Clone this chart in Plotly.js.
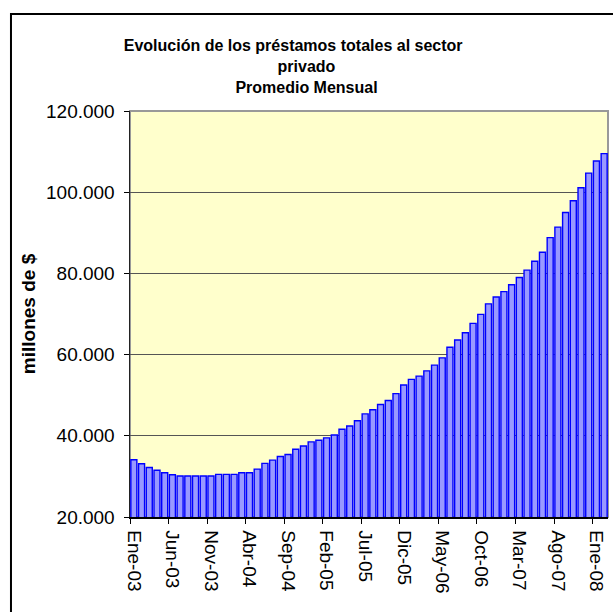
<!DOCTYPE html>
<html>
<head>
<meta charset="utf-8">
<script src="https://cdn.plot.ly/plotly-3.0.1.min.js"></script>
<style>html,body{margin:0;padding:0;background:#fff;}#chart{width:613px;height:612px;}</style>
</head>
<body>
<div id="chart"></div>
<script>
// Month labels (Spanish abbreviations) and years covered
const monthNames = ["Ene","Feb","Mar","Abr","May","Jun","Jul","Ago","Sep","Oct","Nov","Dic"];
const years = ["03","04","05","06","07","08"];
const nMonths = 62; // Ene-03 .. Feb-08

// Monthly average total loans to private sector (millones de $)
const prestamos = [
  34100, 33100, 32200, 31500, 30900, 30400, 30100, 30100, 30100, 30100, 30100, 30500,
  30500, 30500, 30900, 30900, 31800, 33200, 34000, 34900, 35400, 36700, 37500, 38500,
  38900, 39500, 40200, 41600, 42400, 43700, 45400, 46400, 47700, 48700, 50400, 52500,
  53900, 54700, 56000, 57400, 59200, 61800, 63600, 65400, 67700, 69900, 72500, 74200,
  75500, 77200, 79000, 80800, 83000, 85200, 88800, 91400, 95000, 97900, 101100, 104700,
  107700, 109500
];

const yTickVals = [20000, 40000, 60000, 80000, 100000, 120000];

const categories = [];
for (let i = 0; i < nMonths; i++) {
  categories.push(monthNames[i % 12] + "-" + years[Math.floor(i / 12)]);
}

const font = "Liberation Sans, Arial, sans-serif";

const trace = {
  type: "bar",
  x: categories,
  y: prestamos,
  marker: { color: "#9999FF", line: { color: "#0000FF", width: 1.4 } },
  hoverinfo: "x+y"
};

const layout = {
  width: 613,
  height: 612,
  margin: { l: 130, r: 5, t: 111, b: 95 },
  paper_bgcolor: "#ffffff",
  plot_bgcolor: "#FFFFCC",
  separators: ",.",
  bargap: 0.22,
  showlegend: false,
  font: { family: font, color: "#000", size: 19 },
  title: {
    text: "<b>Evolución de los préstamos totales al sector&nbsp;&nbsp;&nbsp;&nbsp;&nbsp;&nbsp;<br>privado<br>Promedio Mensual</b>",
    font: { family: font, size: 16, color: "#000" },
    x: 0.5, xref: "container", xanchor: "center",
    y: 1 - 51 / 612, yref: "container", yanchor: "middle"
  },
  xaxis: {
    type: "category",
    tickmode: "linear", tick0: 0, dtick: 5,
    tickson: "boundaries",
    ticks: "outside", ticklen: 5, tickcolor: "#000", tickwidth: 1,
    ticklabelstandoff: 8,
    tickangle: 90,
    tickfont: { family: font, size: 19, color: "#000" },
    showgrid: false,
    showline: true, linecolor: "#000", linewidth: 1.5,
    range: [-0.5, nMonths - 0.5],
    automargin: false
  },
  yaxis: {
    range: [20000, 120000],
    tickmode: "array", tickvals: yTickVals,
    tickformat: ",d",
    ticks: "outside", ticklen: 5, tickcolor: "#000", tickwidth: 1,
    ticklabelstandoff: 5,
    tickfont: { family: font, size: 19, color: "#000" },
    showgrid: true, gridcolor: "#555", gridwidth: 1,
    showline: true, linecolor: "#222", linewidth: 1.5,
    zeroline: false,
    automargin: false,
    title: { text: "<b>millones de $</b>", font: { family: font, size: 19, color: "#000" }, standoff: 5 }
  },
  shapes: [
    { type: "path", xref: "paper", yref: "paper",
      path: "M -0.249,-0.33 L -0.249,1.2389 L 1.1,1.2389",
      line: { color: "#000", width: 2 } },
    { type: "rect", xref: "paper", yref: "paper", x0: 0, x1: 1, y0: 0, y1: 1,
      line: { color: "#999", width: 2 }, layer: "below" }
  ]
};

Plotly.newPlot("chart", [trace], layout, { displayModeBar: false, staticPlot: true });
</script>
</body>
</html>
